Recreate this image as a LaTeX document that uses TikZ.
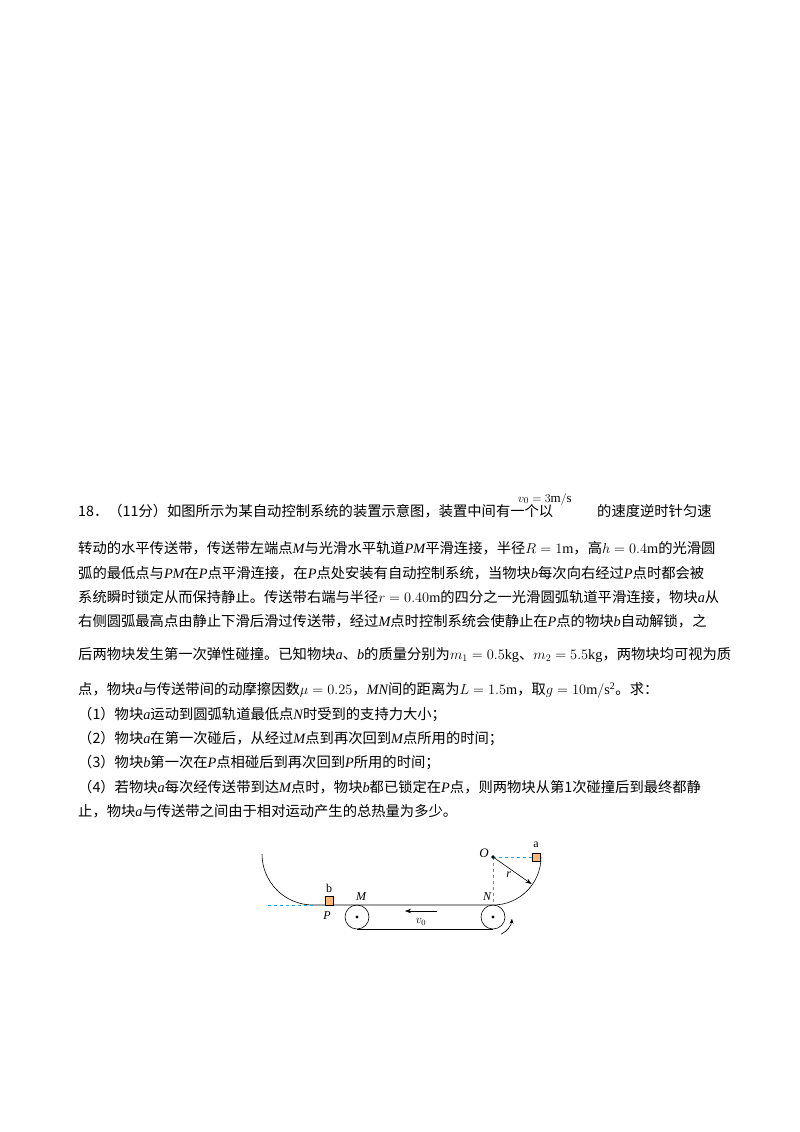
\documentclass[tikz,border=0pt]{standalone}
\usepackage{fontspec}
\setmainfont{Liberation Serif}
\newfontfamily\cjk{Noto Sans CJK SC}
\usetikzlibrary{arrows.meta}
\definecolor{dshblue}{RGB}{20,170,230}
\begin{document}
\begin{tikzpicture}[x=1pt,y=-1pt,
  ln/.style={anchor=west,inner sep=0,font=\cjk\fontsize{14.3}{16}\selectfont},
  dsh/.style={dshblue,dashed,semithick},
  blk/.style={draw=black,fill=orange!55,minimum size=8.5pt,inner sep=0,thin}]
\useasboundingbox (0,0) rectangle (800,1132);
\node[ln] (l1) at (78,511) {18．（11分）如图所示为某自动控制系统的装置示意图，装置中间有一个以};
\node[anchor=west,inner sep=0,font=\fontsize{13}{14}\selectfont] (v) at (518,499) {$v_0=3\mathrm{m/s}$};
\node[ln] (l1b) at (597,511) {的速度逆时针匀速};
\node[ln] (l2) at (78,548) {转动的水平传送带，传送带左端点{\rmfamily\itshape M}与光滑水平轨道{\rmfamily\itshape PM}平滑连接，半径{\rmfamily$R=1$m}，高{\rmfamily$h=0.4$m}的光滑圆};
\node[ln] (l3) at (78,573) {弧的最低点与{\rmfamily\itshape PM}在{\rmfamily\itshape P}点平滑连接，在{\rmfamily\itshape P}点处安装有自动控制系统，当物块{\rmfamily\itshape b}每次向右经过{\rmfamily\itshape P}点时都会被};
\node[ln] (l4) at (78,597) {系统瞬时锁定从而保持静止。传送带右端与半径{\rmfamily$r=0.40$m}的四分之一光滑圆弧轨道平滑连接，物块{\rmfamily\itshape a}从};
\node[ln] (l5) at (78,621) {右侧圆弧最高点由静止下滑后滑过传送带，经过{\rmfamily\itshape M}点时控制系统会使静止在{\rmfamily\itshape P}点的物块{\rmfamily\itshape b}自动解锁，之};
\node[ln] (l6) at (78,655) {后两物块发生第一次弹性碰撞。已知物块{\rmfamily\itshape a}、{\rmfamily\itshape b}的质量分别为{\rmfamily$m_1=0.5$kg}、{\rmfamily$m_2=5.5$kg}，两物块均可视为质};
\node[ln] (l7) at (78,690) {点，物块{\rmfamily\itshape a}与传送带间的动摩擦因数{\rmfamily$\mu=0.25$}，{\rmfamily\itshape MN}间的距离为{\rmfamily$L=1.5$m}，取{\rmfamily$g=10\mathrm{m/s^2}$}。求：};
\node[ln] (q1) at (78,715) {（1）物块{\rmfamily\itshape a}运动到圆弧轨道最低点{\rmfamily\itshape N}时受到的支持力大小；};
\node[ln] (q2) at (78,739) {（2）物块{\rmfamily\itshape a}在第一次碰后，从经过{\rmfamily\itshape M}点到再次回到{\rmfamily\itshape M}点所用的时间；};
\node[ln] (q3) at (78,763) {（3）物块{\rmfamily\itshape b}第一次在{\rmfamily\itshape P}点相碰后到再次回到{\rmfamily\itshape P}所用的时间；};
\node[ln] (q4) at (78,787) {（4）若物块{\rmfamily\itshape a}每次经传送带到达{\rmfamily\itshape M}点时，物块{\rmfamily\itshape b}都已锁定在{\rmfamily\itshape P}点，则两物块从第1次碰撞后到最终都静};
\node[ln] (q5) at (78,811) {止，物块{\rmfamily\itshape a}与传送带之间由于相对运动产生的总热量为多少。};
% diagram
\coordinate (P) at (313,905);
\coordinate (N) at (493,905);
\coordinate (O) at (493,857);
\draw[semithick] (262,854) arc[start angle=180,end angle=90,radius=51] -- (N)
  arc[start angle=90,end angle=0,radius=48];
\draw[semithick] (357,929) -- (493,929);
\node[draw,semithick,circle,minimum size=24pt,inner sep=0] (pl) at (357,917) {};
\node[draw,semithick,circle,minimum size=24pt,inner sep=0] (pr) at (493,917) {};
\fill (pl.center) circle (1.6);
\fill (pr.center) circle (1.6);
\draw[dsh] (268,905) -- (P);
\node[blk,anchor=south] (b) at (329,905) {};
\node[inner sep=0,font=\fontsize{12}{13}\selectfont] at (329,888) {b};
\node[inner sep=0,font=\fontsize{12}{13}\selectfont\itshape] at (327,916) {P};
\node[inner sep=0,font=\fontsize{12}{13}\selectfont\itshape] at (361,897) {M};
\node[inner sep=0,font=\fontsize{12}{13}\selectfont\itshape] at (487,897) {N};
\node[blk] (a) at (536,857) {};
\node[inner sep=0,font=\fontsize{12}{13}\selectfont] at (536,845) {a};
\draw[dsh] (O) -- (a.west);
\draw[dsh] (O) -- (N);
\fill (O) circle (1.8);
\node[inner sep=0,font=\fontsize{13}{14}\selectfont\itshape] at (484,853) {O};
\draw[semithick,-{Stealth[length=6pt]}] (O) -- ++(35:47) node[pos=0.5,below left,inner sep=1pt,font=\fontsize{12}{13}\selectfont\itshape] {r};
\draw[semithick,-{Stealth[length=6pt]}] (437,911) -- (405,911);
\node[inner sep=0,font=\fontsize{12}{13}\selectfont] at (421,922) {$v_0$};
\draw[semithick,-{Stealth[length=5pt]}] ([shift={(65:19)}]pr.center) arc[start angle=65,end angle=5,radius=19];
\end{tikzpicture}
\end{document}
